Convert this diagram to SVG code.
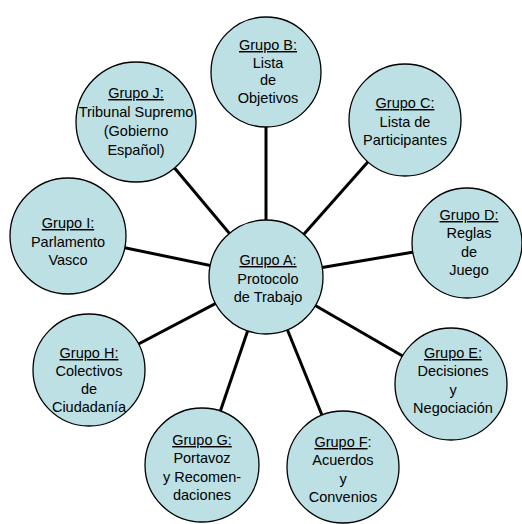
<svg xmlns="http://www.w3.org/2000/svg" width="522" height="524" viewBox="0 0 522 524">
<style>
.n{fill:#BCE0E4;stroke:#000;stroke-width:1.3}
.c line{stroke:#000;stroke-width:3}
text{font-family:"Liberation Sans",Arial,sans-serif;font-size:14.5px;fill:#000;text-anchor:middle}
.u{text-decoration:underline}
</style>
<rect width="522" height="524" fill="#fff"/>
<g id="connectors" class="c">
<line x1="266" y1="277" x2="266" y2="72"/>
<line x1="266" y1="277" x2="405" y2="120"/>
<line x1="266" y1="277" x2="467" y2="243"/>
<line x1="266" y1="277" x2="451" y2="384"/>
<line x1="266" y1="277" x2="343" y2="467"/>
<line x1="266" y1="277" x2="202" y2="465"/>
<line x1="266" y1="277" x2="89" y2="370"/>
<line x1="266" y1="277" x2="68" y2="236"/>
<line x1="266" y1="277" x2="136" y2="122"/>
</g>
<g id="nodeA"><circle class="n" cx="266" cy="277" r="57"/>
<text x="268" y="265"><tspan class="u">Grupo A:</tspan><tspan x="268" dy="18.5">Protocolo</tspan><tspan x="268" dy="18.5">de Trabajo</tspan></text></g>
<g id="nodeB"><circle class="n" cx="266" cy="72" r="55"/>
<text x="268" y="50"><tspan class="u">Grupo B:</tspan><tspan x="268" dy="17.7">Lista</tspan><tspan x="268" dy="17.7">de</tspan><tspan x="268" dy="17.7">Objetivos</tspan></text></g>
<g id="nodeC"><circle class="n" cx="405" cy="120" r="56"/>
<text x="405" y="108"><tspan class="u">Grupo C:</tspan><tspan x="405" dy="18.5">Lista de</tspan><tspan x="405" dy="18.5">Participantes</tspan></text></g>
<g id="nodeD"><circle class="n" cx="467" cy="243" r="55"/>
<text x="469" y="220"><tspan class="u">Grupo D:</tspan><tspan x="469" dy="18.3">Reglas</tspan><tspan x="469" dy="18.3">de</tspan><tspan x="469" dy="18.3">Juego</tspan></text></g>
<g id="nodeE"><circle class="n" cx="451" cy="384" r="56"/>
<text x="453" y="358"><tspan class="u">Grupo E:</tspan><tspan x="453" dy="18.3">Decisiones</tspan><tspan x="453" dy="18.3">y</tspan><tspan x="453" dy="18.3">Negociación</tspan></text></g>
<g id="nodeF"><circle class="n" cx="343" cy="467" r="56"/>
<text x="343" y="447"><tspan class="u">Grupo F</tspan>:<tspan x="343" dy="18.3">Acuerdos</tspan><tspan x="343" dy="18.3">y</tspan><tspan x="343" dy="18.3">Convenios</tspan></text></g>
<g id="nodeG"><circle class="n" cx="202" cy="465" r="57"/>
<text x="202" y="445"><tspan class="u">Grupo G:</tspan><tspan x="202" dy="18.3">Portavoz</tspan><tspan x="202" dy="18.3">y Recomen-</tspan><tspan x="202" dy="18.3">daciones</tspan></text></g>
<g id="nodeH"><circle class="n" cx="89" cy="370" r="56"/>
<text x="89" y="358"><tspan class="u">Grupo H:</tspan><tspan x="89" dy="18">Colectivos</tspan><tspan x="89" dy="18">de</tspan><tspan x="89" dy="18">Ciudadanía</tspan></text></g>
<g id="nodeI"><circle class="n" cx="68" cy="236" r="58"/>
<text x="68" y="228"><tspan class="u">Grupo I:</tspan><tspan x="68" dy="18.5">Parlamento</tspan><tspan x="68" dy="18.5">Vasco</tspan></text></g>
<g id="nodeJ"><circle class="n" cx="136" cy="122" r="60"/>
<text x="136" y="98"><tspan class="u">Grupo J:</tspan><tspan x="136" dy="19">Tribunal Supremo</tspan><tspan x="136" dy="19">(Gobierno</tspan><tspan x="136" dy="19">Español)</tspan></text></g>
</svg>
